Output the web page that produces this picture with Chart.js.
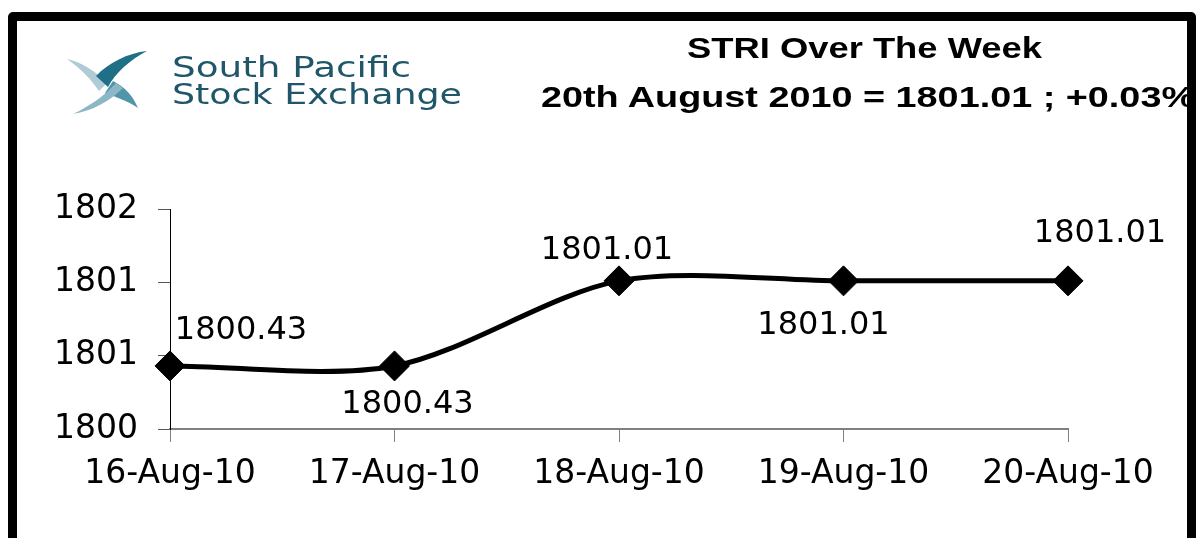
<!DOCTYPE html>
<html>
<head>
<meta charset="utf-8">
<title>STRI Over The Week</title>
<script src="https://cdn.jsdelivr.net/npm/chart.js@4.4.1/dist/chart.umd.min.js"></script>
<style>
    html, body { margin: 0; padding: 0; background: #fff; overflow: hidden; }
    #page { position: relative; width: 1196px; height: 538px; overflow: hidden; }
    #chartWrap { position: absolute; left: 0; top: 0; width: 1196px; height: 538px; }
    #header { position: absolute; left: 0; top: 0; }
    #header .title { font-family: 'Liberation Sans', Arial, Helvetica, sans-serif; font-weight: 700; font-size: 30px; }
    #header .logo { font-family: 'DejaVu Sans', Verdana, sans-serif; font-size: 28px; }
    #frame {
        position: absolute; left: 8px; top: 12px; width: 1188px; height: 600px;
        box-sizing: border-box; border: 9px solid #000; border-radius: 5px;
    }
</style>
</head>
<body>
<div id="page">
    <div id="chartWrap"><canvas id="striChart" width="1196" height="538"></canvas></div>
    <svg id="header" width="1196" height="140" xmlns="http://www.w3.org/2000/svg">
        <!-- logo mark -->
        <path d="M67 59 C82 62 96 72 107 83 L99 91 C90 78 80 68 67 59 Z" fill="#b0cbd6"/>
        <path d="M147 51 C128 53 108 63 96 76 L108 87 C116 72 130 60 147 51 Z" fill="#1f6f86"/>
        <path d="M113 81 C125 87 133 96 138 108 C128 101 116 97 105 93 Z" fill="#5095a9"/>
        <path d="M73 114 C92 111 110 101 123 88 L116 83 C104 96 90 106 73 114 Z" fill="#8db6c6"/>
        <text class="logo" x="172" y="77" textLength="239" lengthAdjust="spacingAndGlyphs" fill="#1f566a">South Pacific</text>
        <text class="logo" x="172" y="104" textLength="290" lengthAdjust="spacingAndGlyphs" fill="#1f566a">Stock Exchange</text>
        <text class="title" x="687" y="58" textLength="355" lengthAdjust="spacingAndGlyphs" fill="#000">STRI Over The Week</text>
        <text class="title" x="541" y="107" textLength="654" lengthAdjust="spacingAndGlyphs" fill="#000">20th August 2010 = 1801.01 ; +0.03%</text>
    </svg>
    <div id="frame"></div>
</div>
<script>
const days = ['16-Aug-10', '17-Aug-10', '18-Aug-10', '19-Aug-10', '20-Aug-10'];
const striClose = [1800.43, 1800.43, 1801.01, 1801.01, 1801.01];
const yTicks = [1800, 1800.5, 1801, 1801.5];
const yTickLabels = ['1800', '1801', '1801', '1802'];

// where each value label sits relative to its marker (px)
const labelOffsets = [[71, -38], [13, 36], [-12, -33], [-20, 42], [32, -50]];

const valueLabels = {
    id: 'valueLabels',
    afterDatasetsDraw(chart) {
        const ctx = chart.ctx;
        const points = chart.getDatasetMeta(0).data;
        const size = 32;
        ctx.save();
        ctx.font = `${size}px "DejaVu Sans"`;
        ctx.fillStyle = '#000';
        ctx.textAlign = 'center';
        ctx.textBaseline = 'alphabetic';
        points.forEach((pt, i) => {
            const [dx, dy] = labelOffsets[i];
            ctx.fillText(striClose[i].toFixed(2), pt.x + dx, pt.y + dy + size * 0.36);
        });
        ctx.restore();
    }
};

function createStriChart() {
    const ctx = document.getElementById('striChart').getContext('2d');
    new Chart(ctx, {
        type: 'line',
        data: {
            labels: days,
            datasets: [{
                label: 'STRI',
                data: striClose,
                borderColor: '#000',
                borderWidth: 5,
                tension: 0.3,
                fill: false,
                pointStyle: 'rectRot',
                pointRadius: 15,
                pointBackgroundColor: '#000',
                pointBorderColor: '#000',
                pointBorderWidth: 1
            }]
        },
        options: {
            responsive: false,
            animation: false,
            devicePixelRatio: 1,
            layout: { padding: { top: 209, right: 128, bottom: 0, left: 0 } },
            plugins: {
                legend: { display: false },
                tooltip: { enabled: false },
                title: { display: false }
            },
            scales: {
                x: {
                    offset: false,
                    afterFit: scale => { scale.height = 109; },
                    grid: { drawOnChartArea: false, drawTicks: true, tickLength: 13, color: '#808080', lineWidth: 1 },
                    border: { display: true, color: '#808080', width: 2 },
                    ticks: {
                        color: '#000',
                        padding: 13,
                        maxRotation: 0,
                        autoSkip: false,
                        font: { family: 'DejaVu Sans', size: 33 }
                    }
                },
                y: {
                    min: 1800,
                    max: 1801.5,
                    afterFit: scale => { scale.width = 170; },
                    afterBuildTicks: scale => { scale.ticks = yTicks.map(v => ({ value: v })); },
                    grid: { drawOnChartArea: false, drawTicks: true, tickLength: 12, color: '#555', lineWidth: 1 },
                    border: { display: true, color: '#000', width: 1 },
                    ticks: {
                        color: '#000',
                        padding: 20,
                        callback: (value, index) => yTickLabels[index],
                        font: { family: 'DejaVu Sans', size: 33 }
                    }
                }
            }
        },
        plugins: [valueLabels]
    });
}

document.addEventListener('DOMContentLoaded', createStriChart);
</script>
</body>
</html>
